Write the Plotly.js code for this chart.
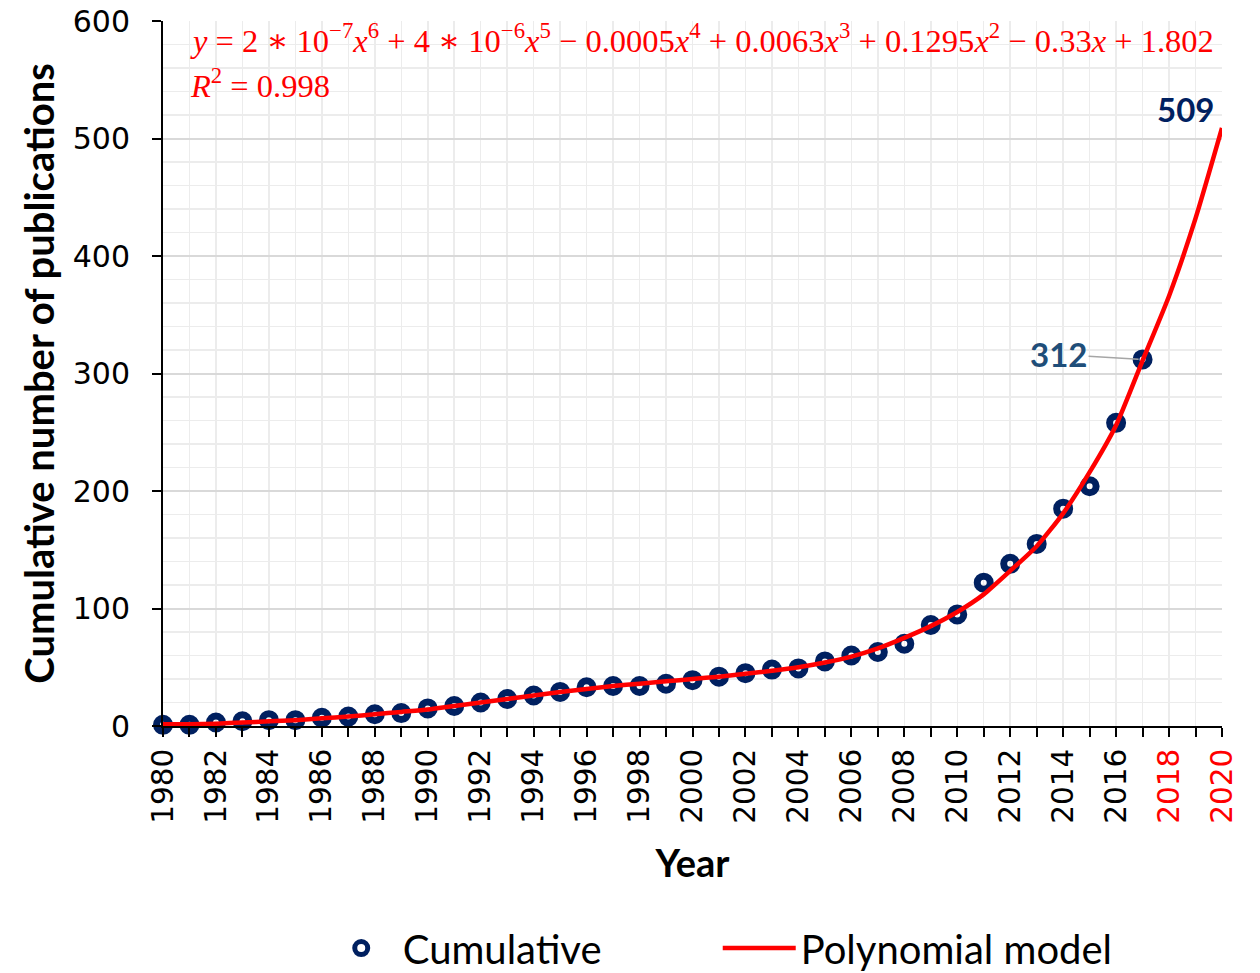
<!DOCTYPE html>
<html>
<head>
<meta charset="utf-8">
<script src="https://cdn.plot.ly/plotly-3.0.1.min.js"></script>
<style>html,body{margin:0;padding:0;background:#fff;}#chart{width:1260px;height:973px;}</style>
</head>
<body>
<div id="chart"></div>
<script>
// Observed cumulative publications, 1980-2017
const obsYears = [1980,1981,1982,1983,1984,1985,1986,1987,1988,1989,1990,1991,1992,1993,1994,1995,1996,1997,1998,1999,2000,2001,2002,2003,2004,2005,2006,2007,2008,2009,2010,2011,2012,2013,2014,2015,2016,2017];
const cumulative = [1,1,3,4,5,5,7,8,10,11,15,17,20,23,26,29,33,34,34,36,39,42,45,48,49,55,60,63,70,86,95,122,138,155,185,204,258,312];

// Polynomial model curve, 1980-2020
const modelYears = [1980,1981,1982,1983,1984,1985,1986,1987,1988,1989,1990,1991,1992,1993,1994,1995,1996,1997,1998,1999,2000,2001,2002,2003,2004,2005,2006,2007,2008,2009,2010,2011,2012,2013,2014,2015,2016,2017,2018,2019,2020];
const modelValues = [1.5,1.5,2,3,4,5,6.5,8,10,12,14,17,20,23,26,29,31.5,34,36,38,40,42,44.5,47,50,54,59,66,75,85,97,112,132,153,181,216,256,311,366,432,509];

// Axis ticks (labelled every two years; 2018 and 2020 are forecast years shown in red)
const xTickVals = [1980,1982,1984,1986,1988,1990,1992,1994,1996,1998,2000,2002,2004,2006,2008,2010,2012,2014,2016,2018,2020];
const forecastYears = [2018, 2020];
const xTickText = xTickVals.map(v =>
  forecastYears.includes(v) ? '<span style="color:#ff0000">' + v + '</span>' : String(v));
const yTickVals = [0,100,200,300,400,500,600];

const navy = '#002060';
const red = '#ff0000';
const gridLight = '#ececec';
const sansBold = 'Lato, "Open Sans", sans-serif';
const tickFont = '"DejaVu Sans", Verdana, sans-serif';
const mathFont = '"Liberation Serif", "DejaVu Serif", serif';

const traces = [
  {
    x: obsYears, y: cumulative, name: 'Cumulative', type: 'scatter', mode: 'markers',
    cliponaxis: false,
    marker: {symbol: 'circle-open', size: 13, color: navy, line: {color: navy, width: 7}}
  },
  {
    x: modelYears, y: modelValues, name: 'Polynomial model', type: 'scatter', mode: 'lines',
    line: {color: red, width: 4.5, shape: 'spline', smoothing: 0.6}
  }
];

const lastIdx = modelValues.length - 1;
const labelIdx = cumulative.length - 1;

const layout = {
  width: 1260, height: 973,
  paper_bgcolor: '#ffffff', plot_bgcolor: '#ffffff',
  margin: {l: 163, r: 38, t: 21, b: 247, autoexpand: false},
  showlegend: true,
  legend: {
    orientation: 'h', x: 0.148, xanchor: 'left', y: -0.315, yanchor: 'middle',
    font: {family: sansBold, size: 40, color: '#000'},
    entrywidth: 310, itemwidth: 73, tracegroupgap: 0
  },
  xaxis: {
    range: [1980, 2020], tickmode: 'array', tickvals: xTickVals, ticktext: xTickText,
    tickangle: -90, ticks: 'outside', ticklen: 9, tickwidth: 2, tickcolor: '#000',
    tickfont: {family: tickFont, size: 29.5, color: '#000'},
    showline: true, linecolor: '#000', linewidth: 2,
    showgrid: true, gridcolor: gridLight, gridwidth: 1.5,
    minor: {dtick: 1, tick0: 1980, showgrid: true, gridcolor: gridLight, gridwidth: 1.5,
            ticks: 'outside', ticklen: 9, tickwidth: 2, tickcolor: '#000'},
    zeroline: false, automargin: false,
    title: {text: '<b>Year</b>', font: {family: sansBold, size: 38, color: '#000'}, standoff: 28}
  },
  xaxis2: {
    overlaying: 'x', range: [1980, 2020], tickmode: 'linear', tick0: 1980.5, dtick: 1,
    showgrid: true, gridcolor: gridLight, gridwidth: 1.5,
    showticklabels: false, ticks: '', showline: false, zeroline: false, automargin: false
  },
  yaxis: {
    range: [0, 600], tickmode: 'array', tickvals: yTickVals,
    ticks: 'outside', ticklen: 9, tickwidth: 2, tickcolor: '#000', ticklabelstandoff: 16,
    tickfont: {family: tickFont, size: 30, color: '#000'},
    showline: true, linecolor: '#000', linewidth: 2,
    showgrid: true, gridcolor: '#d9d9d9', gridwidth: 2,
    minor: {dtick: 20, showgrid: true, gridcolor: gridLight, gridwidth: 1.5, ticks: ''},
    zeroline: false, automargin: false,
    title: {text: '<b>Cumulative number of publications</b>', font: {family: sansBold, size: 40, color: '#000'}, standoff: 6}
  },
  annotations: [
    {
      xref: 'paper', yref: 'paper', x: 0.024, y: 0.975, xanchor: 'left', yanchor: 'middle', showarrow: false,
      align: 'left',
      text: '<i>y</i> = 2 ∗ 10<sup>−7</sup><i>x</i><sup>6</sup> + 4 ∗ 10<sup>−6</sup><i>x</i><sup>5</sup> − 0.0005<i>x</i><sup>4</sup> + 0.0063<i>x</i><sup>3</sup> + 0.1295<i>x</i><sup>2</sup> − 0.33<i>x</i> + 1.802',
      font: {family: mathFont, size: 32.5, color: red}
    },
    {
      xref: 'paper', yref: 'paper', x: 0.024, y: 0.912, xanchor: 'left', yanchor: 'middle', showarrow: false,
      text: '<i>R</i><sup>2</sup> = 0.998',
      font: {family: mathFont, size: 32.5, color: red}
    },
    {
      x: modelYears[lastIdx], y: modelValues[lastIdx], xref: 'x', yref: 'y', showarrow: false,
      xshift: -37, yshift: 19, text: '<b>' + Math.round(modelValues[lastIdx]) + '</b>',
      font: {family: sansBold, size: 33, color: navy}
    },
    {
      x: obsYears[labelIdx], y: cumulative[labelIdx], xref: 'x', yref: 'y', showarrow: true,
      ax: -84, ay: -5, arrowhead: 0, arrowwidth: 1.5, arrowcolor: '#a6a6a6', standoff: 4,
      text: '<b>' + cumulative[labelIdx] + '</b>',
      font: {family: sansBold, size: 33, color: '#1f4e79'}
    }
  ]
};

Plotly.newPlot('chart', traces, layout, {displayModeBar: false, staticPlot: true});
</script>
</body>
</html>
